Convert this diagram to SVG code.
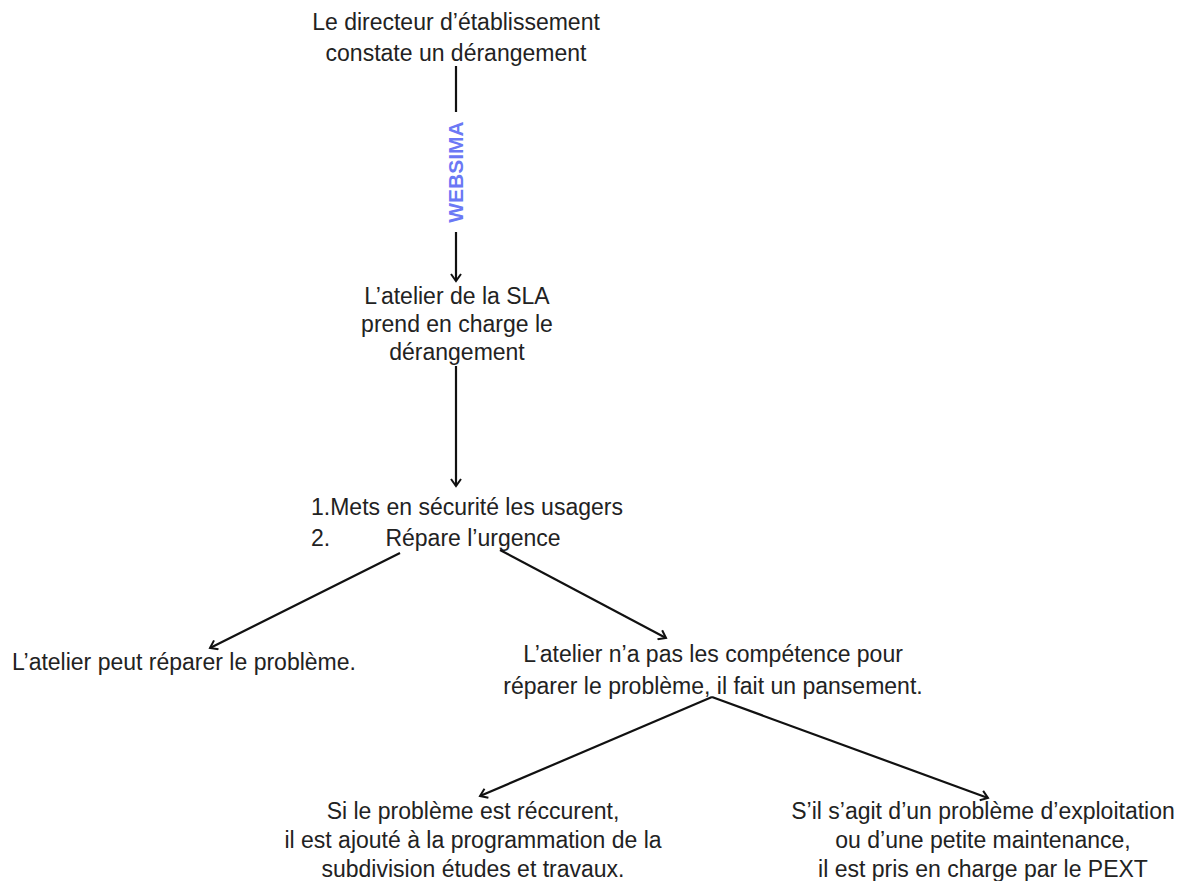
<svg xmlns="http://www.w3.org/2000/svg" width="1182" height="881" viewBox="0 0 1182 881">
<defs>
<marker id="arr" markerWidth="12" markerHeight="12" refX="10" refY="6" orient="auto" markerUnits="userSpaceOnUse">
<path d="M3,1 L10,6 L3,11" fill="none" stroke="#111" stroke-width="2"/>
</marker>
<style>
text{font-family:"Liberation Sans","Noto Sans",sans-serif;font-size:23px;fill:#222;}
.c{text-anchor:middle;}
.e{stroke:#111;stroke-width:2.2;fill:none;}
.w{font-weight:bold;fill:#6b78f5;font-size:21px;}
</style>
</defs>
<rect width="1182" height="881" fill="#fff"/>
<g id="n1"><text class="c" x="456" y="30">Le directeur d’établissement</text><text class="c" x="456" y="61">constate un dérangement</text></g>
<g id="n2"><text class="c" x="457" y="304">L’atelier de la SLA</text><text class="c" x="457" y="332">prend en charge le</text><text class="c" x="457" y="360">dérangement</text></g>
<g id="n3"><text x="311" y="515">1.Mets en sécurité les usagers</text><text x="311" y="546">2.</text><text class="c" x="473" y="546">Répare l’urgence</text></g>
<g id="n4"><text x="12" y="670">L’atelier peut réparer le problème.</text></g>
<g id="n5"><text class="c" x="713" y="662">L’atelier n’a pas les compétence pour</text><text class="c" x="713" y="694">réparer le problème, il fait un pansement.</text></g>
<g id="n6"><text class="c" x="473" y="819">Si le problème est réccurent,</text><text class="c" x="473" y="848">il est ajouté à la programmation de la</text><text class="c" x="473" y="877">subdivision études et travaux.</text></g>
<g id="n7"><text class="c" x="983" y="819">S’il s’agit d’un problème d’exploitation</text><text class="c" x="983" y="848">ou d’une petite maintenance,</text><text class="c" x="983" y="877">il est pris en charge par le PEXT</text></g>
<g id="connectors">
<line class="e" x1="456" y1="66" x2="456" y2="112"/>
<text class="w c" transform="translate(463,172) rotate(-90)">WEBSIMA</text>
<line class="e" x1="456" y1="232" x2="456" y2="281" marker-end="url(#arr)"/>
<line class="e" x1="456" y1="366" x2="456" y2="486" marker-end="url(#arr)"/>
<line class="e" x1="400" y1="553" x2="210" y2="648" marker-end="url(#arr)"/>
<line class="e" x1="500" y1="550" x2="666" y2="638" marker-end="url(#arr)"/>
<line class="e" x1="712" y1="697" x2="480" y2="796" marker-end="url(#arr)"/>
<line class="e" x1="712" y1="697" x2="988" y2="798" marker-end="url(#arr)"/>
</g>
</svg>
